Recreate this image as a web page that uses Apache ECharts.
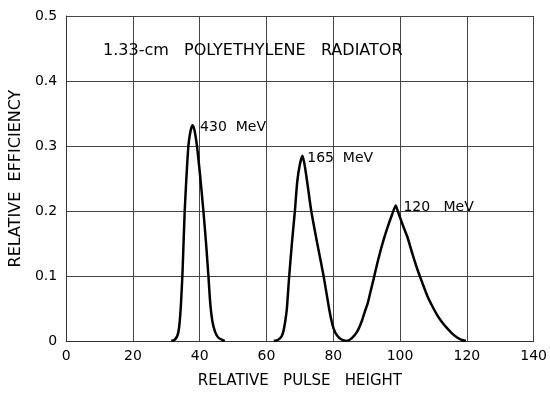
<!DOCTYPE html>
<html>
<head>
<meta charset="utf-8">
<script src="https://cdn.jsdelivr.net/npm/echarts@6/dist/echarts.min.js"></script>
<style>html,body{margin:0;padding:0;background:#fff;}#c{width:550px;height:394px;}</style>
</head>
<body>
<div id="c"></div>
<script>
// Data
var curve430 = [[31.5,0],[32.5,0.002],[33.3,0.008],[33.8,0.02],[34.3,0.05],[34.8,0.1],[35.15,0.15],[35.5,0.2],[36.0,0.25],[36.6,0.3],[37.2,0.322],[37.8,0.332],[38.4,0.325],[38.9,0.31],[39.4,0.29],[40.2,0.25],[41.1,0.2],[41.9,0.15],[42.6,0.1],[43.2,0.055],[43.8,0.03],[44.6,0.014],[45.6,0.005],[47,0.001],[47.5,0]];
var curve165 = [[62.2,0],[63.5,0.002],[64.6,0.008],[65.1,0.016],[65.6,0.03],[66.1,0.05],[66.8,0.1],[67.6,0.15],[68.5,0.2],[69.2,0.245],[70,0.272],[70.8,0.285],[71.6,0.265],[72.5,0.233],[73.4,0.2],[75.2,0.15],[77.1,0.1],[78.8,0.048],[79.7,0.026],[80.5,0.014],[81.4,0.007],[82.2,0.003],[83.2,0.0008],[84.2,0]];
var curve120 = [[84.2,0],[85.5,0.004],[87.1,0.014],[88.5,0.03],[89.5,0.046],[90.3,0.058],[91.1,0.075],[92.1,0.096],[93.2,0.12],[94.2,0.14],[95.2,0.158],[96.2,0.174],[97.5,0.193],[98.7,0.2085],[99.3,0.2],[100.2,0.187],[101.2,0.173],[102.2,0.16],[103.7,0.134],[105.2,0.11],[106.7,0.089],[108.2,0.069],[109.7,0.053],[111.2,0.039],[112.7,0.028],[114.2,0.019],[115.7,0.011],[117.2,0.005],[118.5,0.0015],[119.7,0]];
var labelText = ['430  MeV', '165  MeV', '120   MeV'];
var labelX = [40.1, 72.2, 101.0];
var labelY = [0.328, 0.281, 0.2056];
var xTicks = [0, 20, 40, 60, 80, 100, 120, 140];
var yTicks = [0, 0.1, 0.2, 0.3, 0.4, 0.5];
var titleText = '1.33-cm   POLYETHYLENE   RADIATOR';
var xName = 'RELATIVE   PULSE   HEIGHT';
var yName = 'RELATIVE  EFFICIENCY';

var FONT = 'DejaVu Sans';
var chart = echarts.init(document.getElementById('c'), null, {renderer: 'canvas'});
var lineStyle = {color: '#000', width: 2.5};
var labelData = labelText.map(function (t, i) { return {name: t, value: [labelX[i], labelY[i]]}; });
chart.setOption({
  animation: false,
  backgroundColor: '#fff',
  title: {
    text: titleText, left: 98, top: 38,
    textStyle: {fontFamily: FONT, fontSize: 16, fontWeight: 'normal', color: '#000'}
  },
  grid: {left: 64, right: 12, top: 16, bottom: 45},
  xAxis: {
    type: 'value', min: xTicks[0], max: xTicks[xTicks.length - 1], interval: 20,
    name: xName, nameLocation: 'middle', nameGap: 33,
    nameTextStyle: {fontFamily: FONT, fontSize: 15, color: '#000'},
    axisLine: {show: true, lineStyle: {color: '#333', width: 1}},
    axisTick: {show: false},
    axisLabel: {fontFamily: FONT, fontSize: 14, color: '#000', margin: 8},
    splitLine: {show: true, lineStyle: {color: '#444', width: 1}}
  },
  yAxis: {
    type: 'value', min: yTicks[0], max: yTicks[yTicks.length - 1], interval: 0.1,
    name: yName, nameLocation: 'middle', nameGap: 37,
    nameTextStyle: {fontFamily: FONT, fontSize: 16, color: '#000'},
    axisLine: {show: true, lineStyle: {color: '#333', width: 1}},
    axisTick: {show: false},
    axisLabel: {fontFamily: FONT, fontSize: 14, color: '#000', margin: 9,
      formatter: function (v) { return v === 0 ? '0' : v.toFixed(1); }},
    splitLine: {show: true, lineStyle: {color: '#444', width: 1}}
  },
  series: [
    {type: 'line', data: curve430, showSymbol: false, smooth: 0.2, lineStyle: lineStyle},
    {type: 'line', data: curve165, showSymbol: false, smooth: 0.2, lineStyle: lineStyle},
    {type: 'line', data: curve120, showSymbol: false, smooth: 0.2, lineStyle: lineStyle},
    {type: 'scatter', data: labelData, symbolSize: 0, silent: true,
      itemStyle: {opacity: 1},
      label: {show: true, position: 'right', distance: 0, formatter: '{b}', opacity: 1,
        fontFamily: FONT, fontSize: 14, color: '#000'}}
  ]
});
</script>
</body>
</html>
